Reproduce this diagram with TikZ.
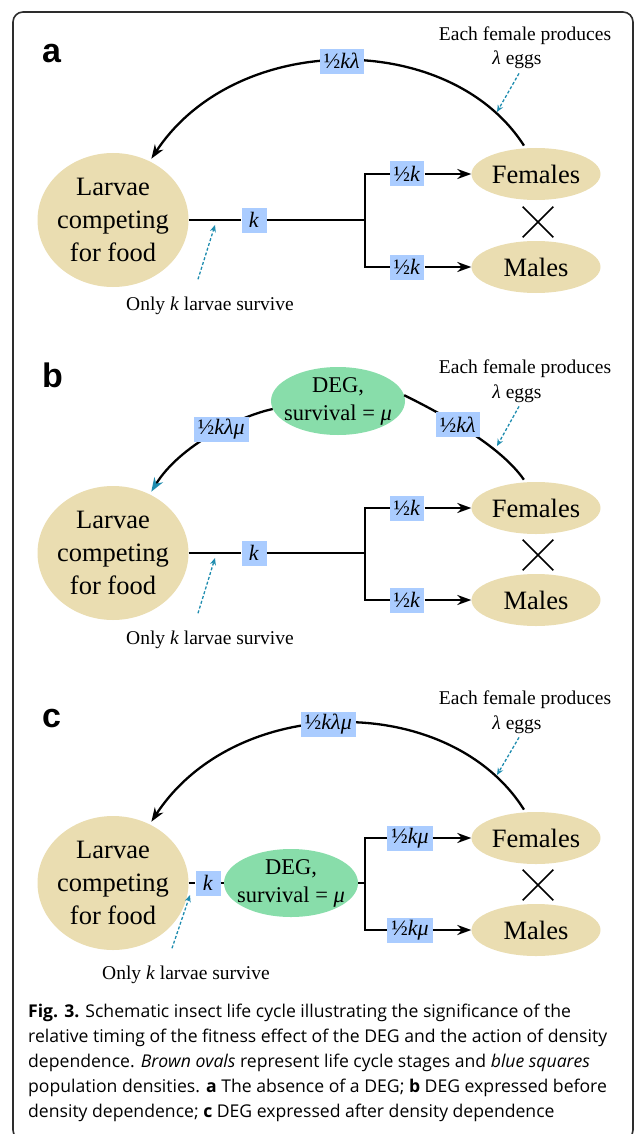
\documentclass[tikz,border=0pt]{standalone}
\usepackage{fontspec}
\setmainfont{Liberation Serif}
\newfontfamily\lblfont{Liberation Sans}
\newfontfamily\capfont{Open Sans}
\usetikzlibrary{shapes.geometric,shapes.misc,arrows.meta}
\definecolor{beige}{RGB}{234,221,177}
\definecolor{boxblue}{RGB}{170,204,255}
\definecolor{degg}{RGB}{136,221,170}
\definecolor{hintc}{RGB}{30,140,175}
\definecolor{framec}{RGB}{45,45,45}
\tikzset{
 stage/.style={ellipse, fill=beige, inner sep=0pt, align=center},
 larva/.style={stage, inner xsep=-4pt, minimum width=151pt, minimum height=134pt, font=\fontsize{26.5}{33}\selectfont},
 sex/.style={stage, minimum width=129pt, minimum height=52pt, font=\fontsize{26.5}{33}\selectfont},
 deg/.style={ellipse, fill=degg, minimum width=134pt, minimum height=68pt, inner xsep=-8pt, inner ysep=-2pt, align=center, font=\fontsize{22.5}{28}\selectfont},
 dens/.style={fill=boxblue, minimum height=25pt, minimum width=25pt, inner xsep=4pt, inner ysep=0pt, font=\fontsize{22}{22}\selectfont},
 conn/.style={line width=2.3pt, black},
 arr/.style={conn, -{Stealth[length=14pt,width=10pt]}},
 crossmark/.style={cross out, draw, line width=1.7pt, minimum width=29pt, minimum height=29pt, inner sep=0pt},
 note/.style={font=\fontsize{19.5}{24}\selectfont, anchor=base, inner sep=0pt},
 hint/.style={draw=hintc, line width=1.3pt, dash pattern=on 3pt off 2pt, -{Stealth[length=7pt,width=6pt]}},
 plabel/.style={font=\lblfont\bfseries\fontsize{34}{34}\selectfont, anchor=base west, inner sep=0pt},
 captxt/.style={font=\capfont\fontsize{17.6}{25}\selectfont, anchor=base west, inner sep=0pt},
}
\begin{document}
\begin{tikzpicture}[x=1pt,y=-1pt]
\useasboundingbox (0,0) rectangle (634,1134);
\draw[framec, line width=1.6pt, rounded corners=10pt] (13,12) rectangle (633,1140);

% ---------------- panel a
\node[plabel] (pa) at (42,63) {a};
\node[larva] (La) at (113,220) {Larvae\\competing\\for food};
\node[sex] (Fa) at (536,174) {Females};
\node[sex] (Ma) at (536,267) {Males};
\node[crossmark] (Xa) at (538,222) {};
\node[dens] (ka) at (254,220) {\textit{k}};
\coordinate (Ba) at (365,220);
\node[dens] (hfa) at (407,174) {½\textit{k}};
\node[dens] (hma) at (407,267) {½\textit{k}};
\draw[conn] (La.east) -- (ka.west);
\draw[conn] (ka.east) -- (Ba);
\draw[conn] (Ba) |- (hfa.west);
\draw[conn] (Ba) |- (hma.west);
\draw[arr] (hfa.east) -- (Fa.west);
\draw[arr] (hma.east) -- (Ma.west);
\draw[arr, shorten <=3pt, shorten >=3pt] (Fa.112) .. controls (450,30) and (236,30) .. (La.58)
  node[pos=0.5, dens] (ea) {½\textit{kλ}};
\node[note] (ta1) at (525,41) {Each female produces};
\node[note] (ta2) at (517,65) {\textit{λ} eggs};
\coordinate (tta) at (497,112);
\draw[hint] ([shift={(2,4)}]ta2.south) -- (tta);
\node[note] (oa) at (210,310) {Only \textit{k} larvae survive};
\coordinate (ota) at (215,225);
\draw[hint] ([shift={(-12,-17)}]oa.north) -- (ota);

% ---------------- panel b
\node[plabel] (pb) at (42,387) {b};
\node[larva] (Lb) at (113,553) {Larvae\\competing\\for food};
\node[sex] (Fb) at (536,508) {Females};
\node[sex] (Mb) at (536,600) {Males};
\node[crossmark] (Xb) at (538,555) {};
\node[dens] (kb) at (254,553) {\textit{k}};
\coordinate (Bb) at (365,553);
\node[dens] (hfb) at (407,508) {½\textit{k}};
\node[dens] (hmb) at (407,600) {½\textit{k}};
\node[deg] (Db) at (338,401) {DEG,\\survival = \textit{μ}};
\draw[conn] (Lb.east) -- (kb.west);
\draw[conn] (kb.east) -- (Bb);
\draw[conn] (Bb) |- (hfb.west);
\draw[conn] (Bb) |- (hmb.west);
\draw[arr] (hfb.east) -- (Fb.west);
\draw[arr] (hmb.east) -- (Mb.west);
\draw[conn, shorten <=3pt] (Fb.112) .. controls (500,445) and (440,413) .. (Db.5)
  node[pos=0.58, dens] (eb1) {½\textit{kλ}};
\draw[conn, -{Stealth[length=14pt,width=10pt,color=hintc]}, shorten >=3pt] (Db.187) .. controls (240,416) and (180,445) .. (Lb.58)
  node[pos=0.42, dens] (eb2) {½\textit{kλμ}};
\node[note] (tb1) at (525,373) {Each female produces};
\node[note] (tb2) at (517,398) {\textit{λ} eggs};
\coordinate (ttb) at (497,446);
\draw[hint] ([shift={(2,4)}]tb2.south) -- (ttb);
\node[note] (ob) at (210,644) {Only \textit{k} larvae survive};
\coordinate (otb) at (215,558);
\draw[hint] ([shift={(-12,-17)}]ob.north) -- (otb);

% ---------------- panel c
\node[plabel] (pc) at (42,727) {c};
\node[larva] (Lc) at (113,883) {Larvae\\competing\\for food};
\node[sex] (Fc) at (536,838) {Females};
\node[sex] (Mc) at (536,930) {Males};
\node[crossmark] (Xc) at (538,885) {};
\node[dens] (kc) at (208,883) {\textit{k}};
\node[deg] (Dc) at (291,883) {DEG,\\survival = \textit{μ}};
\coordinate (Bc) at (365,883);
\node[dens] (hfc) at (410,838) {½\textit{kμ}};
\node[dens] (hmc) at (410,930) {½\textit{kμ}};
\draw[conn] (Lc.east) -- (kc.west);
\draw[conn] (kc.east) -- (Dc.west);
\draw[conn] (Dc.east) -- (Bc);
\draw[conn] (Bc) |- (hfc.west);
\draw[conn] (Bc) |- (hmc.west);
\draw[arr] (hfc.east) -- (Fc.west);
\draw[arr] (hmc.east) -- (Mc.west);
\draw[arr, shorten <=3pt, shorten >=3pt] (Fc.112) .. controls (450,692) and (236,692) .. (Lc.58)
  node[pos=0.53, dens] (ec) {½\textit{kλμ}};
\node[note] (tc1) at (525,704) {Each female produces};
\node[note] (tc2) at (517,729) {\textit{λ} eggs};
\coordinate (ttc) at (497,775);
\draw[hint] ([shift={(2,4)}]tc2.south) -- (ttc);
\node[note] (oc) at (186,979) {Only \textit{k} larvae survive};
\coordinate (otc) at (190,895);
\draw[hint] ([shift={(-14,-17)}]oc.north) -- (otc);

% ---------------- caption
\node[captxt] (c1) at (28,1017) {\textbf{Fig. 3.} Schematic insect life cycle illustrating the significance of the};
\node[captxt] (c2) at (28,1042) {relative timing of the fitness effect of the DEG and the action of density};
\node[captxt] (c3) at (28,1067) {dependence. \textit{Brown ovals} represent life cycle stages and \textit{blue squares}};
\node[captxt] (c4) at (28,1092) {population densities. \textbf{a} The absence of a DEG; \textbf{b} DEG expressed before};
\node[captxt] (c5) at (28,1117) {density dependence; \textbf{c} DEG expressed after density dependence};
\end{tikzpicture}
\end{document}
